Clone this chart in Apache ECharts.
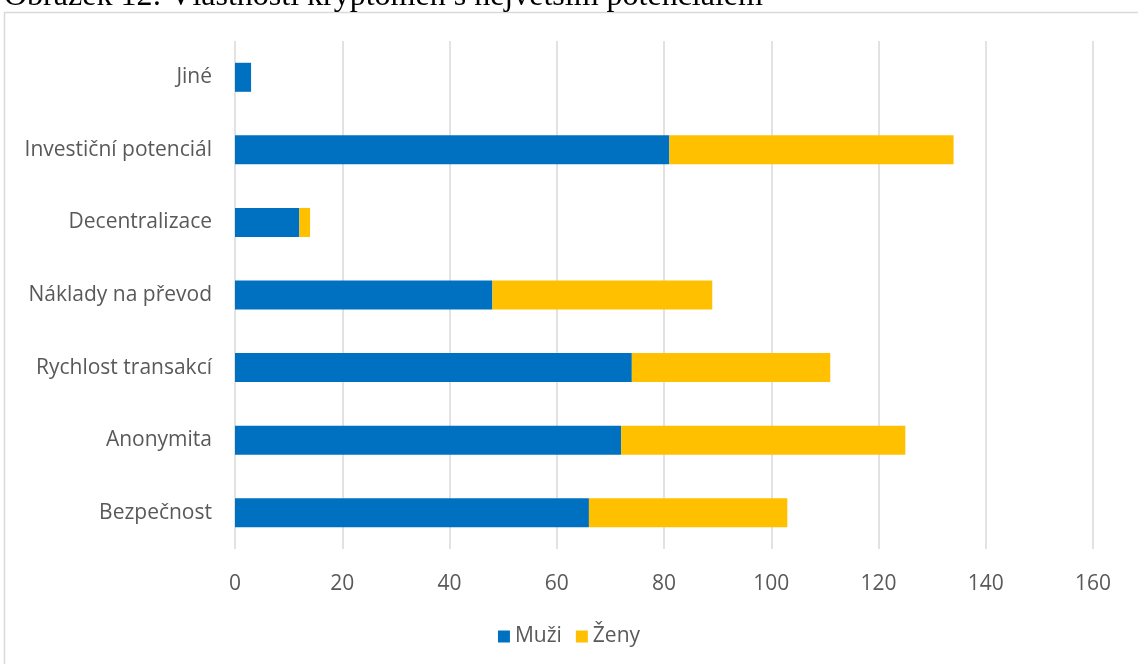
<!DOCTYPE html>
<html>
<head>
<meta charset="utf-8">
<script src="https://cdn.jsdelivr.net/npm/echarts@6/dist/echarts.min.js"></script>
<style>
  html, body { margin: 0; padding: 0; background: #fff; }
  #chart { width: 1138px; height: 664px; }
</style>
</head>
<body>
<div id="chart"></div>
<script>
// Categories listed bottom-to-top (category axis on y starts at the bottom)
const categories = ['Bezpečnost', 'Anonymita', 'Rychlost transakcí', 'Náklady na převod', 'Decentralizace', 'Investiční potenciál', 'Jiné'];
const muzi = [66, 72, 74, 48, 12, 81, 3];
const zeny = [37, 53, 37, 41, 2, 53, 0];
const seriesNames = ['Muži', 'Ženy'];
const titleText = 'Obrázek 12: Vlastnosti kryptoměn s největším potenciálem';

const chart = echarts.init(document.getElementById('chart'));
const labelFont = '"Open Sans", sans-serif';

chart.setOption({
  animation: false,
  backgroundColor: '#fff',
  graphic: [
    {
      type: 'rect',
      shape: { x: 4.5, y: 12.5, width: 1140, height: 700 },
      style: { fill: 'none', stroke: '#d9d9d9', lineWidth: 1.5 },
      silent: true,
      z: 0
    },
    {
      // caption sits above the frame, running off the top edge
      type: 'text',
      x: 4,
      y: -19,
      style: {
        text: titleText,
        font: '32px "Liberation Serif", serif',
        fill: '#000'
      },
      z: 10
    }
  ],
  legend: {
    bottom: 12,
    left: 'center',
    itemWidth: 12,
    itemHeight: 12,
    itemGap: 14,
    icon: 'rect',
    textStyle: { color: '#595959', fontSize: 21, fontFamily: labelFont },
    data: seriesNames
  },
  grid: { left: 235, right: 45, top: 41, bottom: 115, containLabel: false },
  xAxis: {
    type: 'value',
    min: 0,
    max: 160,
    interval: 20,
    axisLine: { show: false },
    axisTick: { show: false },
    axisLabel: { color: '#595959', fontSize: 21, fontFamily: labelFont, margin: 25 },
    splitLine: { lineStyle: { color: '#d9d9d9', width: 1.5 } }
  },
  yAxis: {
    type: 'category',
    data: categories,
    axisLine: { show: false },
    axisTick: { show: false },
    axisLabel: { color: '#595959', fontSize: 21, fontFamily: labelFont, margin: 23 }
  },
  series: [
    {
      name: seriesNames[0],
      type: 'bar',
      stack: 'total',
      barWidth: '40%',
      itemStyle: { color: '#0070C0' },
      data: muzi
    },
    {
      name: seriesNames[1],
      type: 'bar',
      stack: 'total',
      barWidth: '40%',
      itemStyle: { color: '#FFC000' },
      data: zeny
    }
  ]
});
</script>
</body>
</html>
